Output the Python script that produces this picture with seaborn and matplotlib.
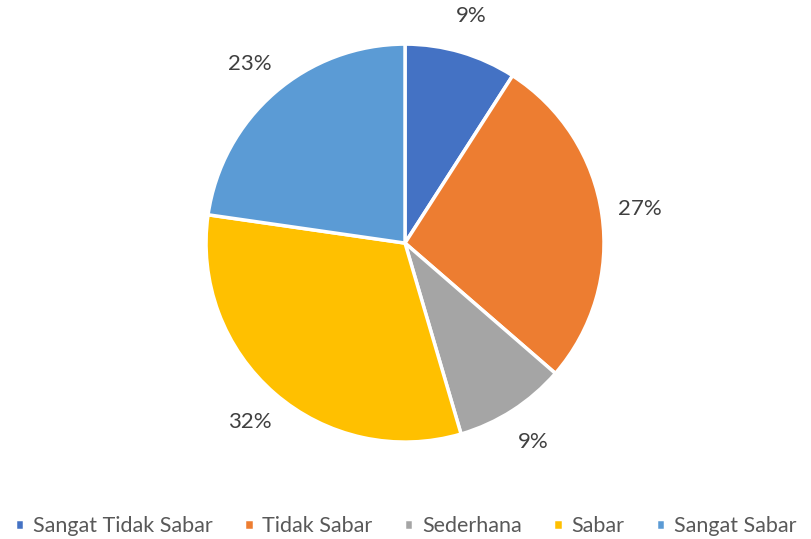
import matplotlib
matplotlib.use("Agg")
import matplotlib.pyplot as plt
import seaborn as sns

# data: jumlah responden per kategori (22 total)
kategori = ["Sangat Tidak Sabar", "Tidak Sabar", "Sederhana", "Sabar", "Sangat Sabar"]
jumlah = [2, 6, 2, 7, 5]
warna = ["#4472C4", "#ED7D31", "#A5A5A5", "#FFC000", "#5B9BD5"]

sns.set_theme(style="white")
plt.rcParams['font.family'] = ['Lato', 'DejaVu Sans']

fig = plt.figure(figsize=(8.11, 5.39), dpi=100)
ax = fig.add_axes([0.2049, 0.106, 0.589, 0.886])

wedges, teks, pct = ax.pie(jumlah, colors=warna, startangle=90, counterclock=False,
                           autopct="%1.0f%%", pctdistance=1.19, radius=1,
                           wedgeprops=dict(edgecolor="white", linewidth=2.5))
for t in pct:
    t.set_fontsize(16)
    t.set_color("#404040")

ax.set_xlim(-1.2, 1.2)
ax.set_ylim(-1.2, 1.2)
ax.set_aspect("equal")
ax.axis("off")

fig.legend(wedges, kategori, loc="center", bbox_to_anchor=(0.5, 0.024), ncol=5,
           frameon=False, fontsize=15.5, handlelength=0.45, handleheight=0.45,
           handletextpad=0.4, columnspacing=1.45, labelcolor="#595959",
           borderpad=0, borderaxespad=0)

fig.savefig("out.png", dpi=100)
